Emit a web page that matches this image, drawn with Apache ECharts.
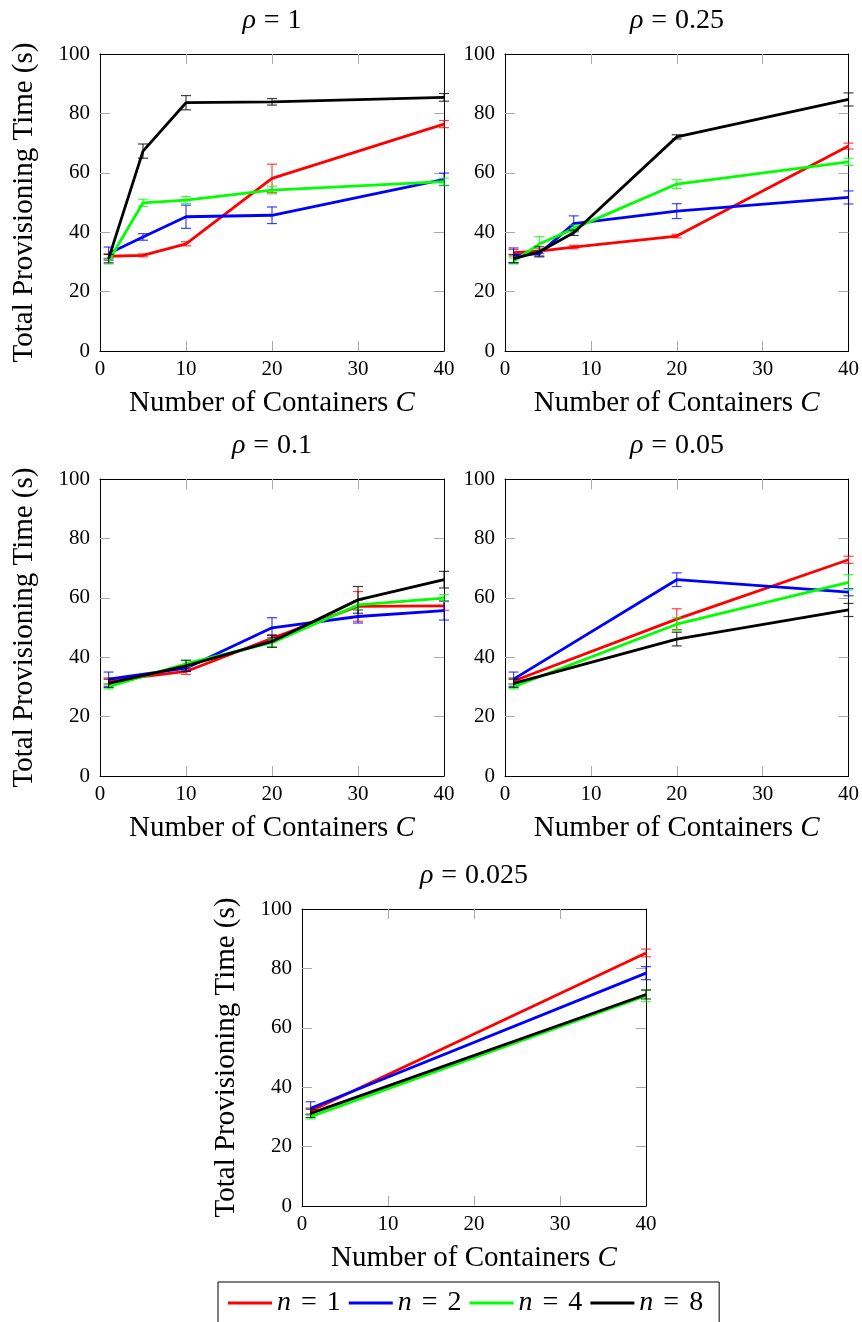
<!DOCTYPE html>
<html>
<head>
<meta charset="utf-8">
<script src="https://cdn.jsdelivr.net/npm/echarts@6/dist/echarts.min.js"></script>
<style>
html,body{margin:0;padding:0;background:#fff;}
#chart{width:862px;height:1322px;}
</style>
</head>
<body>
<div id="chart"></div>
<script>
// ---- Data ----
const seriesNames = ['n = 1', 'n = 2', 'n = 4', 'n = 8'];
const seriesColors = ['#ff0000', '#0000ff', '#00ff00', '#000000'];
const xTicks = [0, 10, 20, 30, 40];
const yTicks = [0, 20, 40, 60, 80, 100];
const panelTitles = ['1', '0.25', '0.1', '0.05', '0.025'];

// rho = 1
const rho1_x = [1, 5, 10, 20, 40];
const rho1_n1 = [31.9, 32.2, 36.1, 58.1, 76.4];
const rho1_n1_err = [0.8, 0.5, 0.7, 4.8, 1.2];
const rho1_n2 = [32.8, 38.4, 45.2, 45.7, 57.8];
const rho1_n2_err = [2.2, 1.1, 3.9, 2.8, 2.1];
const rho1_n4 = [30.3, 49.9, 50.8, 54.2, 57.0];
const rho1_n4_err = [1.0, 1.2, 1.2, 1.3, 1.2];
const rho1_n8 = [31.1, 67.3, 83.6, 83.9, 85.4];
const rho1_n8_err = [1.4, 2.4, 2.4, 1.1, 1.3];

// rho = 0.25
const rho025_x = [1, 4, 8, 20, 40];
const rho025_n1 = [33.1, 33.6, 35.0, 38.7, 69.0];
const rho025_n1_err = [1.1, 0.8, 0.6, 0.6, 1.0];
const rho025_n2 = [32.2, 32.8, 42.9, 47.1, 51.7];
const rho025_n2_err = [2.5, 0.8, 2.6, 2.5, 2.2];
const rho025_n4 = [30.3, 36.0, 41.2, 56.2, 63.7];
const rho025_n4_err = [1.0, 2.5, 1.2, 1.5, 1.2];
const rho025_n8 = [31.1, 33.4, 39.8, 72.1, 84.7];
const rho025_n8_err = [1.4, 1.7, 0.9, 0.7, 2.2];

// rho = 0.1
const rho01_x = [1, 10, 20, 30, 40];
const rho01_n1 = [32.0, 35.2, 46.4, 57.1, 57.3];
const rho01_n1_err = [1.0, 1.0, 1.2, 5.0, 1.5];
const rho01_n2 = [32.6, 36.3, 49.9, 53.7, 55.7];
const rho01_n2_err = [2.4, 1.0, 3.4, 2.2, 3.2];
const rho01_n4 = [30.1, 37.8, 44.9, 57.6, 59.9];
const rho01_n4_err = [0.8, 1.0, 1.3, 1.5, 1.2];
const rho01_n8 = [31.2, 37.1, 45.3, 59.3, 66.1];
const rho01_n8_err = [1.4, 1.9, 2.0, 4.5, 2.8];

// rho = 0.05
const rho005_x = [1, 20, 40];
const rho005_n1 = [32.0, 52.8, 72.8];
const rho005_n1_err = [1.0, 3.5, 1.2];
const rho005_n2 = [32.6, 66.1, 61.9];
const rho005_n2_err = [2.4, 2.3, 1.2];
const rho005_n4 = [30.1, 51.1, 65.2];
const rho005_n4_err = [0.8, 2.2, 2.6];
const rho005_n8 = [31.2, 46.1, 55.9];
const rho005_n8_err = [1.4, 2.3, 2.2];

// rho = 0.025
const rho0025_x = [1, 40];
const rho0025_n1 = [32.0, 85.2];
const rho0025_n1_err = [1.0, 1.3];
const rho0025_n2 = [32.9, 78.4];
const rho0025_n2_err = [2.2, 2.2];
const rho0025_n4 = [30.1, 70.8];
const rho0025_n4_err = [0.8, 2.0];
const rho0025_n8 = [31.2, 71.2];
const rho0025_n8_err = [1.4, 1.5];

const panels = [
  {x: rho1_x, ys: [rho1_n1, rho1_n2, rho1_n4, rho1_n8], es: [rho1_n1_err, rho1_n2_err, rho1_n4_err, rho1_n8_err]},
  {x: rho025_x, ys: [rho025_n1, rho025_n2, rho025_n4, rho025_n8], es: [rho025_n1_err, rho025_n2_err, rho025_n4_err, rho025_n8_err]},
  {x: rho01_x, ys: [rho01_n1, rho01_n2, rho01_n4, rho01_n8], es: [rho01_n1_err, rho01_n2_err, rho01_n4_err, rho01_n8_err]},
  {x: rho005_x, ys: [rho005_n1, rho005_n2, rho005_n4, rho005_n8], es: [rho005_n1_err, rho005_n2_err, rho005_n4_err, rho005_n8_err]},
  {x: rho0025_x, ys: [rho0025_n1, rho0025_n2, rho0025_n4, rho0025_n8], es: [rho0025_n1_err, rho0025_n2_err, rho0025_n4_err, rho0025_n8_err]}
];

// ---- Layout ----
const FONT = '"Liberation Serif", "Times New Roman", serif';
const BIG = 28;
const grids = [
  {left: 100, top: 54, width: 344, height: 297},
  {left: 505, top: 54, width: 344, height: 297},
  {left: 100, top: 479, width: 344, height: 297},
  {left: 505, top: 479, width: 344, height: 297},
  {left: 302, top: 909, width: 344, height: 297}
];
const showYName = [true, false, true, false, true];

const frameColor = '#000000';
const tickColor = '#aaaaaa';
const innerX = xTicks.slice(1, -1);
const innerY = yTicks.slice(1, -1);

const xAxes = [], yAxes = [], series = [], graphics = [];
grids.forEach((g, gi) => {
  const base = {
    type: 'value', gridIndex: gi, min: xTicks[0], max: xTicks[xTicks.length - 1], interval: 10,
    splitLine: {show: false},
    axisLine: {show: true, onZero: false, lineStyle: {color: frameColor, width: 1}},
    axisTick: {show: true, inside: true, length: 10, customValues: innerX, lineStyle: {color: tickColor, width: 1}}
  };
  xAxes.push(Object.assign({}, base, {
    position: 'bottom',
    axisLabel: {show: true, margin: 8, fontFamily: FONT, fontSize: 21, color: '#000'},
    name: 'Number of Containers {i|C}', nameLocation: 'middle', nameGap: 38,
    nameTextStyle: {fontFamily: FONT, fontSize: BIG + 1, color: '#000',
      rich: {i: {fontFamily: FONT, fontSize: BIG + 1, fontStyle: 'italic', color: '#000'}}}
  }));
  xAxes.push(Object.assign({}, base, {position: 'top', axisLabel: {show: false}}));
  const ybase = {
    type: 'value', gridIndex: gi, min: yTicks[0], max: yTicks[yTicks.length - 1], interval: 20,
    splitLine: {show: false},
    axisLine: {show: true, onZero: false, lineStyle: {color: frameColor, width: 1}},
    axisTick: {show: true, inside: true, length: 10, customValues: innerY, lineStyle: {color: tickColor, width: 1}}
  };
  const yl = Object.assign({}, ybase, {
    position: 'left',
    axisLabel: {show: true, margin: 10, fontFamily: FONT, fontSize: 21, color: '#000'}
  });
  if (showYName[gi]) {
    Object.assign(yl, {
      name: 'Total Provisioning Time (s)', nameLocation: 'middle', nameGap: 61, nameRotate: 90,
      nameTextStyle: {fontFamily: FONT, fontSize: BIG + 1, color: '#000'}
    });
  }
  yAxes.push(yl);
  yAxes.push(Object.assign({}, ybase, {position: 'right', axisLabel: {show: false}}));

  // title
  graphics.push({
    type: 'text', x: g.left + g.width / 2, y: g.top - 33,
    style: {
      text: '{i|ρ}{eq|=}' + panelTitles[gi],
      rich: {
        i: {fontFamily: FONT, fontSize: BIG, fontStyle: 'italic', fill: '#000'},
        eq: {fontFamily: FONT, fontSize: BIG, fill: '#000', padding: [0, 8, 0, 8]}
      },
      fontFamily: FONT, fontSize: BIG, fill: '#000', align: 'center', verticalAlign: 'middle'
    }
  });

  const p = panels[gi];
  seriesNames.forEach((nm, si) => {
    const color = seriesColors[si];
    series.push({
      type: 'custom', name: nm + ' err', xAxisIndex: gi * 2, yAxisIndex: gi * 2,
      z: 2 + si * 2, clip: false, silent: true,
      itemStyle: {color: color},
      encode: {x: 0, y: [1, 2]},
      data: p.x.map((xv, k) => [xv, p.ys[si][k] - p.es[si][k], p.ys[si][k] + p.es[si][k]]),
      renderItem: function (params, api) {
        const xv = api.value(0);
        const lo = api.coord([xv, api.value(1)]);
        const hi = api.coord([xv, api.value(2)]);
        const w = 5;
        const st = {stroke: color, lineWidth: 1.2, opacity: 0.75};
        return {type: 'group', children: [
          {type: 'line', shape: {x1: lo[0], y1: lo[1], x2: hi[0], y2: hi[1]}, style: st},
          {type: 'line', shape: {x1: lo[0] - w, y1: lo[1], x2: lo[0] + w, y2: lo[1]}, style: st},
          {type: 'line', shape: {x1: hi[0] - w, y1: hi[1], x2: hi[0] + w, y2: hi[1]}, style: st}
        ]};
      }
    });
    series.push({
      type: 'line', name: nm, xAxisIndex: gi * 2, yAxisIndex: gi * 2,
      z: 3 + si * 2, showSymbol: false, symbol: 'none', clip: false,
      lineStyle: {color: color, width: 2.8},
      itemStyle: {color: color},
      data: p.x.map((xv, k) => [xv, p.ys[si][k]])
    });
  });
});

const chart = echarts.init(document.getElementById('chart'), null, {renderer: 'canvas'});
chart.setOption({
  animation: false,
  backgroundColor: '#fff',
  grid: grids.map(g => Object.assign({containLabel: false}, g)),
  xAxis: xAxes,
  yAxis: yAxes,
  legend: {
    data: seriesNames.map((n, i) => ({name: n, icon: 'rect', itemStyle: {color: seriesColors[i]}})),
    left: 218, top: 1282,
    orient: 'horizontal',
    itemWidth: 44, itemHeight: 3, itemGap: 8,
    padding: [7, 16, 6, 10],
    borderColor: '#000', borderWidth: 1,
    selectedMode: false,
    formatter: function (name) { return '{i|n}{eq|=}' + name.slice(-1); },
    textStyle: {fontFamily: FONT, fontSize: BIG, color: '#000', padding: [0, 0, 0, 0],
      rich: {
        i: {fontFamily: FONT, fontSize: BIG, fontStyle: 'italic', color: '#000'},
        eq: {fontFamily: FONT, fontSize: BIG, color: '#000', padding: [0, 10, 0, 10]}
      }}
  },
  graphic: graphics,
  series: series
});
</script>
</body>
</html>
